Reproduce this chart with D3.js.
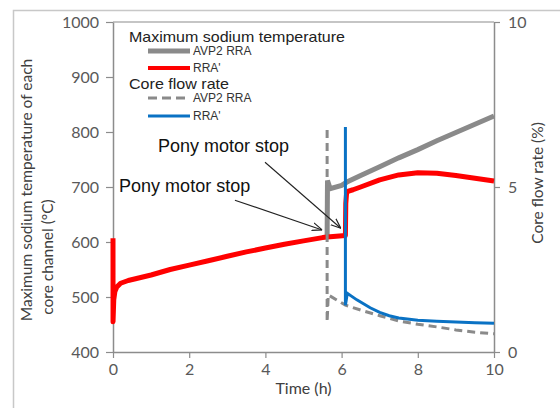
<!DOCTYPE html>
<html>
<head>
<meta charset="utf-8">
<script src="https://cdn.jsdelivr.net/npm/d3@7"></script>
<style>
  body { margin: 0; background: #fff; }
  svg text { font-family: Lato, "Liberation Sans", sans-serif; }
  .note, .legend text { font-family: "Liberation Sans", Arial, sans-serif; }
</style>
</head>
<body>
<svg id="chart" width="560" height="408"></svg>
<script>
// Max sodium temperature (°C), shared by both cases until the pony motor stops
const tempTime = [0, 0.001, 0.02, 0.05, 0.1, 0.2, 0.4, 0.7, 1, 1.5, 2, 2.5, 3, 3.5, 4, 4.5, 5, 5.5, 5.62];
const tempEarly = [607, 455, 495, 510, 518, 525, 530, 535, 540, 550, 558, 566, 574, 582, 589, 596, 602, 608, 609];

// AVP2 RRA after 5.62 h
const avpTime = [5.62, 5.63, 5.7, 6.0, 6.14, 6.5, 7, 7.5, 8, 8.5, 9, 9.5, 10];
const avpTemp = [609, 712, 697, 703, 709, 721, 737, 753, 768, 784, 799, 814, 829];

// RRA' after 5.62 h
const rraTime = [5.62, 6.1, 6.11, 6.13, 6.16, 6.3, 6.5, 7, 7.5, 8, 8.5, 9, 9.5, 10];
const rraTemp = [609, 612, 670, 688, 692, 695, 700, 713, 722, 726, 725, 721, 716, 711];

// Core flow rate (%)
const avpFlowTime = [5.62, 5.62, 5.65, 6.1, 6.5, 7, 7.5, 8, 8.5, 9, 9.5, 10];
const avpFlow = [6.73, 0.91, 1.73, 1.42, 1.27, 1.1, 0.94, 0.84, 0.76, 0.67, 0.6, 0.55];
const rraFlowTime = [6.1, 6.1, 6.15, 6.4, 6.75, 7, 7.25, 7.5, 8, 8.5, 9, 9.5, 10];
const rraFlow = [6.82, 1.42, 1.78, 1.58, 1.34, 1.2, 1.1, 1.03, 0.96, 0.93, 0.91, 0.89, 0.87];

const xTicks = [0, 2, 4, 6, 8, 10];
const yLeftTicks = [400, 500, 600, 700, 800, 900, 1000];
const yRightTicks = [0, 5, 10];

const svg = d3.select('#chart');
const x = d3.scaleLinear().domain([0, 10]).range([113, 494]);
const yL = d3.scaleLinear().domain([400, 1000]).range([352, 22]);
const yR = d3.scaleLinear().domain([0, 10]).range([352, 22]);

// outer frame (only top/left are visible in the crop)
svg.append('path').attr('d', 'M13.5,408 L13.5,10.5 L560,10.5')
  .attr('fill', 'none').attr('stroke', '#c8c8c8').attr('stroke-width', 1.5);

const axisColor = '#8c8c8c';
const tickText = '#595959';

// plot box top border
svg.append('line').attr('x1', x(0)).attr('x2', x(10)).attr('y1', yL(1000)).attr('y2', yL(1000))
  .attr('stroke', axisColor).attr('stroke-width', 1.2);

function styleAxis(g) {
  g.select('.domain').attr('stroke', axisColor).attr('stroke-width', 1.5);
  g.selectAll('.tick line').attr('stroke', axisColor).attr('stroke-width', 1.2);
  g.selectAll('.tick text').attr('fill', tickText).style('font-size', '16px').style('font-family', 'Lato, sans-serif');
}

svg.append('g').attr('transform', `translate(0,${yL(400)})`)
  .call(d3.axisBottom(x).tickValues(xTicks).tickFormat(d3.format('d')).tickSize(6).tickSizeOuter(0).tickPadding(6))
  .call(styleAxis);

svg.append('g').attr('transform', `translate(${x(0)},0)`)
  .call(d3.axisLeft(yL).tickValues(yLeftTicks).tickFormat(d3.format('d')).tickSize(7).tickSizeOuter(0).tickPadding(7))
  .call(styleAxis);

svg.append('g').attr('transform', `translate(${x(10)},0)`)
  .call(d3.axisRight(yR).tickValues(yRightTicks).tickFormat(d3.format('d')).tickSize(6).tickSizeOuter(0).tickPadding(8))
  .call(styleAxis);

// axis titles
svg.append('text').attr('x', x(5)).attr('y', 394).attr('text-anchor', 'middle')
  .attr('fill', '#404040').style('font-size', '16px').text('Time (h)');

const leftTitle = svg.append('text').attr('transform', 'translate(32,190) rotate(-90)')
  .attr('text-anchor', 'middle').attr('fill', '#404040').style('font-size', '15.5px');
leftTitle.append('tspan').attr('x', 0).attr('y', 0).text('Maximum sodium temperature of each');
leftTitle.append('tspan').attr('x', -67).attr('y', 21).text('core channel (°C)');

svg.append('text').attr('transform', 'translate(543,183) rotate(-90)')
  .attr('text-anchor', 'middle').attr('fill', '#404040').style('font-size', '15.5px')
  .text('Core flow rate (%)');

// series
const pts = (ts, vs) => ts.map((t, i) => [t, vs[i]]);
const lineL = d3.line().x(d => x(d[0])).y(d => yL(d[1]));
const lineR = d3.line().x(d => x(d[0])).y(d => yR(d[1]));

const gray = '#8a8a8a', red = '#ff0000', blue = '#0a72c4';

svg.append('path').datum(pts(avpTime, avpTemp)).attr('d', lineL)
  .attr('fill', 'none').attr('stroke', gray).attr('stroke-width', 5);
svg.append('path').datum(pts(tempTime, tempEarly).concat(pts(rraTime, rraTemp).slice(1))).attr('d', lineL)
  .attr('fill', 'none').attr('stroke', red).attr('stroke-width', 5).attr('stroke-linejoin', 'round');
svg.append('path').datum(pts(avpFlowTime, avpFlow)).attr('d', lineR)
  .attr('fill', 'none').attr('stroke', gray).attr('stroke-width', 3).attr('stroke-dasharray', '8,5');
svg.append('path').datum(pts(rraFlowTime, rraFlow)).attr('d', lineR)
  .attr('fill', 'none').attr('stroke', blue).attr('stroke-width', 3);

// annotations
svg.append('defs').append('marker').attr('id', 'arrow')
  .attr('viewBox', '0 0 10 10').attr('refX', 10).attr('refY', 5)
  .attr('markerWidth', 10).attr('markerHeight', 10).attr('markerUnits', 'userSpaceOnUse')
  .attr('orient', 'auto')
  .append('path').attr('d', 'M0,1 L10,5 L0,9').attr('fill', 'none').attr('stroke', '#222').attr('stroke-width', 1.2);

const notes = [
  {text: 'Pony motor stop', tx: 1.18, ty: 764, from: [3.99, 745], to: [5.98, 625]},
  {text: 'Pony motor stop', tx: 0.16, ty: 691, from: [3.2, 676], to: [5.49, 622]}
];
notes.forEach(n => {
  svg.append('text').attr('class', 'note').attr('x', x(n.tx)).attr('y', yL(n.ty))
    .attr('fill', '#111').style('font-size', '18px').text(n.text);
  svg.append('line').attr('x1', x(n.from[0])).attr('y1', yL(n.from[1]))
    .attr('x2', x(n.to[0])).attr('y2', yL(n.to[1]))
    .attr('stroke', '#222').attr('stroke-width', 1.1).attr('marker-end', 'url(#arrow)');
});

// legend
const legend = svg.append('g').attr('class', 'legend');
const legendItems = [
  {type: 'head', label: 'Maximum sodium temperature', y: 42},
  {type: 'solid', color: gray, w: 5, label: 'AVP2 RRA', y: 51},
  {type: 'solid', color: red, w: 4, label: "RRA'", y: 68},
  {type: 'head', label: 'Core flow rate', y: 89},
  {type: 'dash', color: gray, w: 3, label: 'AVP2 RRA', y: 98},
  {type: 'solid', color: blue, w: 3, label: "RRA'", y: 116}
];
legendItems.forEach(d => {
  if (d.type === 'head') {
    legend.append('text').attr('x', 129).attr('y', d.y).attr('fill', '#222')
      .style('font-size', '14.5px').attr('textLength', d.label.length > 20 ? 216 : 100)
      .attr('lengthAdjust', 'spacingAndGlyphs').text(d.label);
  } else {
    legend.append('line').attr('x1', 148).attr('x2', 190).attr('y1', d.y).attr('y2', d.y)
      .attr('stroke', d.color).attr('stroke-width', d.w)
      .attr('stroke-dasharray', d.type === 'dash' ? '9,5' : null);
    legend.append('text').attr('x', 193).attr('y', d.y + 4).attr('fill', '#333')
      .style('font-size', '12px').text(d.label);
  }
});
</script>
</body>
</html>
